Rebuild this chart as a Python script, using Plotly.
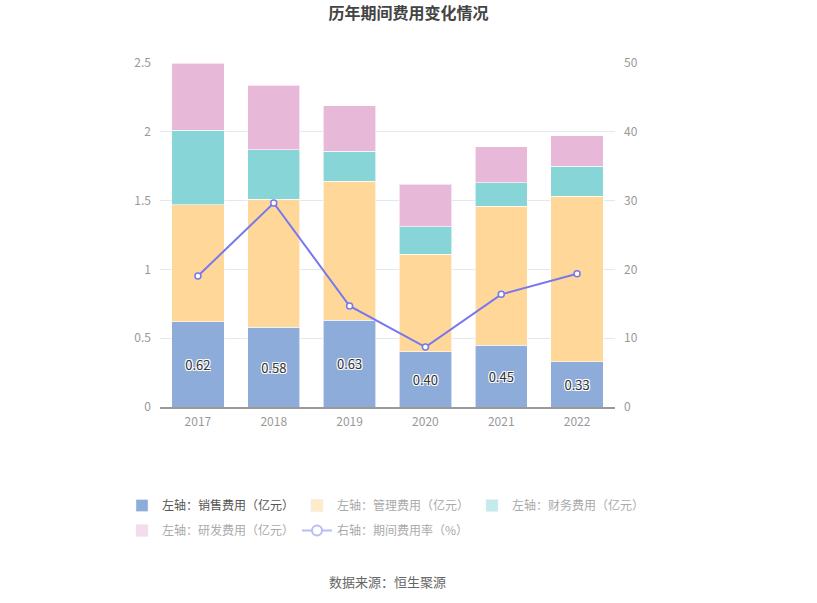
import plotly.graph_objects as go

years = ["2017", "2018", "2019", "2020", "2021", "2022"]
sales = [0.62, 0.58, 0.63, 0.40, 0.45, 0.33]
admin = [0.85, 0.93, 1.01, 0.71, 1.01, 1.20]
finance = [0.54, 0.36, 0.22, 0.20, 0.17, 0.22]
rnd = [0.49, 0.47, 0.33, 0.31, 0.26, 0.22]
rate = [19.04, 29.65, 14.68, 8.72, 16.38, 19.38]

names = ["左轴：销售费用（亿元）", "左轴：管理费用（亿元）", "左轴：财务费用（亿元）",
         "左轴：研发费用（亿元）", "右轴：期间费用率（%）"]
colors = ["#8EACD9", "#FFD899", "#88D5D8", "#E8B8D8"]
legend_colors = ["#8EACD9", "#FFEBC9", "#C3EBEC", "#F4DCEC"]
line_color = "#7777EE"

FONT = "Noto Sans CJK SC"
fig = go.Figure()

series = [sales, admin, finance, rnd]
for i, vals in enumerate(series):
    fig.add_trace(go.Bar(
        x=years, y=vals, name=names[i], showlegend=False,
        marker=dict(color=colors[i], line=dict(color="rgba(255,255,255,0.6)", width=1)),
        text=[f"{v:.2f}" for v in vals] if i == 0 else None,
        textposition="inside" if i == 0 else "none",
        insidetextanchor="middle",
        textfont=dict(color="#333333", size=13, family=FONT,
                      shadow="-1px -1px 0 #fff, 1px -1px 0 #fff, -1px 1px 0 #fff, 1px 1px 0 #fff"),
        hoverinfo="skip",
    ))

fig.add_trace(go.Scatter(
    x=years, y=rate, yaxis="y2", mode="lines+markers", name=names[4], showlegend=False,
    line=dict(color=line_color, width=2),
    marker=dict(symbol="circle", size=6, color="white", line=dict(color=line_color, width=1.5)),
))

# legend entries
for i in range(4):
    txt_color = "#555555" if i == 0 else "#AAAAAA"
    fig.add_trace(go.Bar(
        x=[None], y=[None], name=f"<span style='color:{txt_color}'>{names[i]}</span>",
        marker=dict(color=legend_colors[i]), showlegend=True,
        legend="legend" if i < 3 else "legend2",
    ))
fig.add_trace(go.Scatter(
    x=[None], y=[None], mode="lines+markers", yaxis="y2",
    name=f"<span style='color:#AAAAAA'>{names[4]}</span>",
    line=dict(color="#BBBBF5", width=2),
    marker=dict(symbol="circle", size=10, color="white", line=dict(color="#BBBBF5", width=2)),
    showlegend=True, legend="legend2",
))

leg_common = dict(orientation="h", xref="paper", yanchor="top",
                  entrywidth=130, entrywidthmode="pixels", traceorder="normal",
                  font=dict(size=12, family=FONT, color="#999999"),
                  itemwidth=30, tracegroupgap=0, bgcolor="rgba(0,0,0,0)")

fig.update_layout(
    width=817, height=603,
    barmode="stack", bargap=0.31,
    plot_bgcolor="white", paper_bgcolor="white",
    margin=dict(l=160, r=202, t=63, b=196),
    font=dict(family=FONT, color="#999999", size=12),
    title=dict(text="<b>历年期间费用变化情况</b>", x=0.5, xanchor="center", y=0.987, yanchor="top",
               font=dict(size=16, color="#444444", family=FONT)),
    xaxis=dict(type="category", showgrid=False, showline=True, linecolor="#9A9A9A", linewidth=1.5,
               ticks="", tickfont=dict(size=12, color="#999999"), ticklabelstandoff=3),
    yaxis=dict(range=[0, 2.5], tickvals=[0, 0.5, 1, 1.5, 2, 2.5], ticktext=["0", "0.5", "1", "1.5", "2", "2.5"],
               showgrid=True, gridcolor="#E3E7F1", gridwidth=1, zeroline=False, showline=False,
               tickfont=dict(size=12, color="#999999"), ticklen=0, ticks="", ticklabelstandoff=8),
    yaxis2=dict(range=[0, 50], tickvals=[0, 10, 20, 30, 40, 50], overlaying="y", side="right",
                showgrid=False, zeroline=False, showline=False,
                tickfont=dict(size=12, color="#999999"), ticks="", ticklabelstandoff=8),
    legend=dict(x=(122 - 160) / 455, y=-(491 - 407) / 344, **leg_common),
    legend2=dict(x=(122 - 160) / 455, y=-(516 - 407) / 344, **leg_common),
    annotations=[dict(text="数据来源：恒生聚源", xref="paper", yref="paper", x=0.5, y=-(581 - 407) / 344,
                      xanchor="center", yanchor="middle", showarrow=False,
                      font=dict(size=13, color="#666666", family=FONT))],
)

fig.write_html("out.html", post_script="document.body.style.margin='0';",
               config={"displayModeBar": False})
